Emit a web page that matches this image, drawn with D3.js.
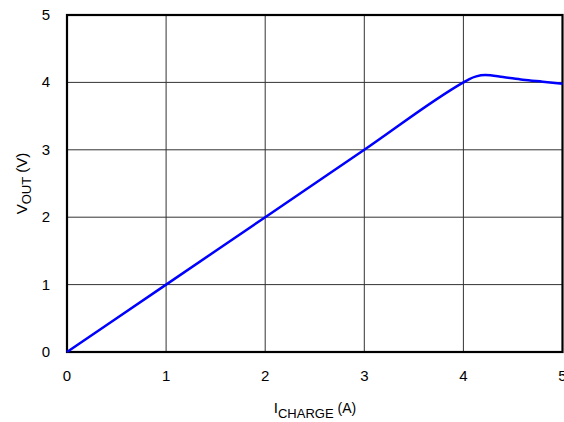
<!DOCTYPE html>
<html>
<head>
<meta charset="utf-8">
<script src="https://cdn.jsdelivr.net/npm/d3@7"></script>
<style>
  body { margin: 0; background: #fff; }
  text { font-family: "Liberation Sans", Arial, sans-serif; fill: #000; }
</style>
</head>
<body>
<svg id="chart"></svg>
<script>
const width = 564;
const height = 422;
const margin = { top: 15, right: 1, bottom: 70, left: 67 };

// curve
const currentA = [0, 1, 2, 3, 4, 4.06, 4.13, 4.22, 4.4, 4.6, 4.8, 5];
const voltageV = [0, 1, 2, 3, 4, 4.05, 4.09, 4.11, 4.08, 4.04, 4.01, 3.98];
const xTicks = [0, 1, 2, 3, 4, 5];
const yTicks = [0, 1, 2, 3, 4, 5];

const svg = d3.select("#chart")
    .attr("width", width)
    .attr("height", height);

const x = d3.scaleLinear().domain([0, 5]).range([margin.left, width - margin.right - 0.5]);
const y = d3.scaleLinear().domain([0, 5]).range([height - margin.bottom, margin.top]);

// grid
svg.append("g")
    .selectAll("line.vx")
    .data(xTicks.slice(1, -1))
    .enter().append("line")
    .attr("x1", d => x(d)).attr("x2", d => x(d))
    .attr("y1", y(0)).attr("y2", y(5))
    .attr("stroke", "#333").attr("stroke-width", 1);

svg.append("g")
    .selectAll("line.hy")
    .data(yTicks.slice(1, -1))
    .enter().append("line")
    .attr("x1", x(0)).attr("x2", x(5))
    .attr("y1", d => y(d)).attr("y2", d => y(d))
    .attr("stroke", "#333").attr("stroke-width", 1);

// frame
svg.append("rect")
    .attr("x", x(0)).attr("y", y(5))
    .attr("width", x(5) - x(0)).attr("height", y(0) - y(5))
    .attr("fill", "none").attr("stroke", "#000").attr("stroke-width", 2.2);

// tick labels
svg.append("g")
    .selectAll("text")
    .data(xTicks)
    .enter().append("text")
    .attr("x", d => x(d)).attr("y", y(0) + 29)
    .attr("text-anchor", "middle")
    .attr("font-size", 15)
    .text(d => d);

svg.append("g")
    .selectAll("text")
    .data(yTicks)
    .enter().append("text")
    .attr("x", x(0) - 17).attr("y", d => y(d) + 5)
    .attr("text-anchor", "end")
    .attr("font-size", 15)
    .text(d => d);

// the curve
const pts = currentA.map((c, i) => [c, voltageV[i]]);
const line = d3.line()
    .x(d => x(d[0]))
    .y(d => y(d[1]))
    .curve(d3.curveMonotoneX);

svg.append("path")
    .datum(pts)
    .attr("d", line)
    .attr("fill", "none")
    .attr("stroke", "#0000ff")
    .attr("stroke-width", 2.5);

// axis titles
const xt = svg.append("text")
    .attr("x", 315).attr("y", 413)
    .attr("text-anchor", "middle")
    .attr("font-size", 15);
xt.append("tspan").text("I");
xt.append("tspan").attr("font-size", 13).attr("dy", 5).text("CHARGE");
xt.append("tspan").attr("font-size", 14).attr("dy", -5).text(" (A)");

const yt = svg.append("text")
    .attr("transform", `translate(27, ${(y(0) + y(5)) / 2}) rotate(-90)`)
    .attr("text-anchor", "middle")
    .attr("font-size", 15);
yt.append("tspan").text("V");
yt.append("tspan").attr("font-size", 13).attr("dy", 4).text("OUT");
yt.append("tspan").attr("dy", -4).text(" (V)");
</script>
</body>
</html>
